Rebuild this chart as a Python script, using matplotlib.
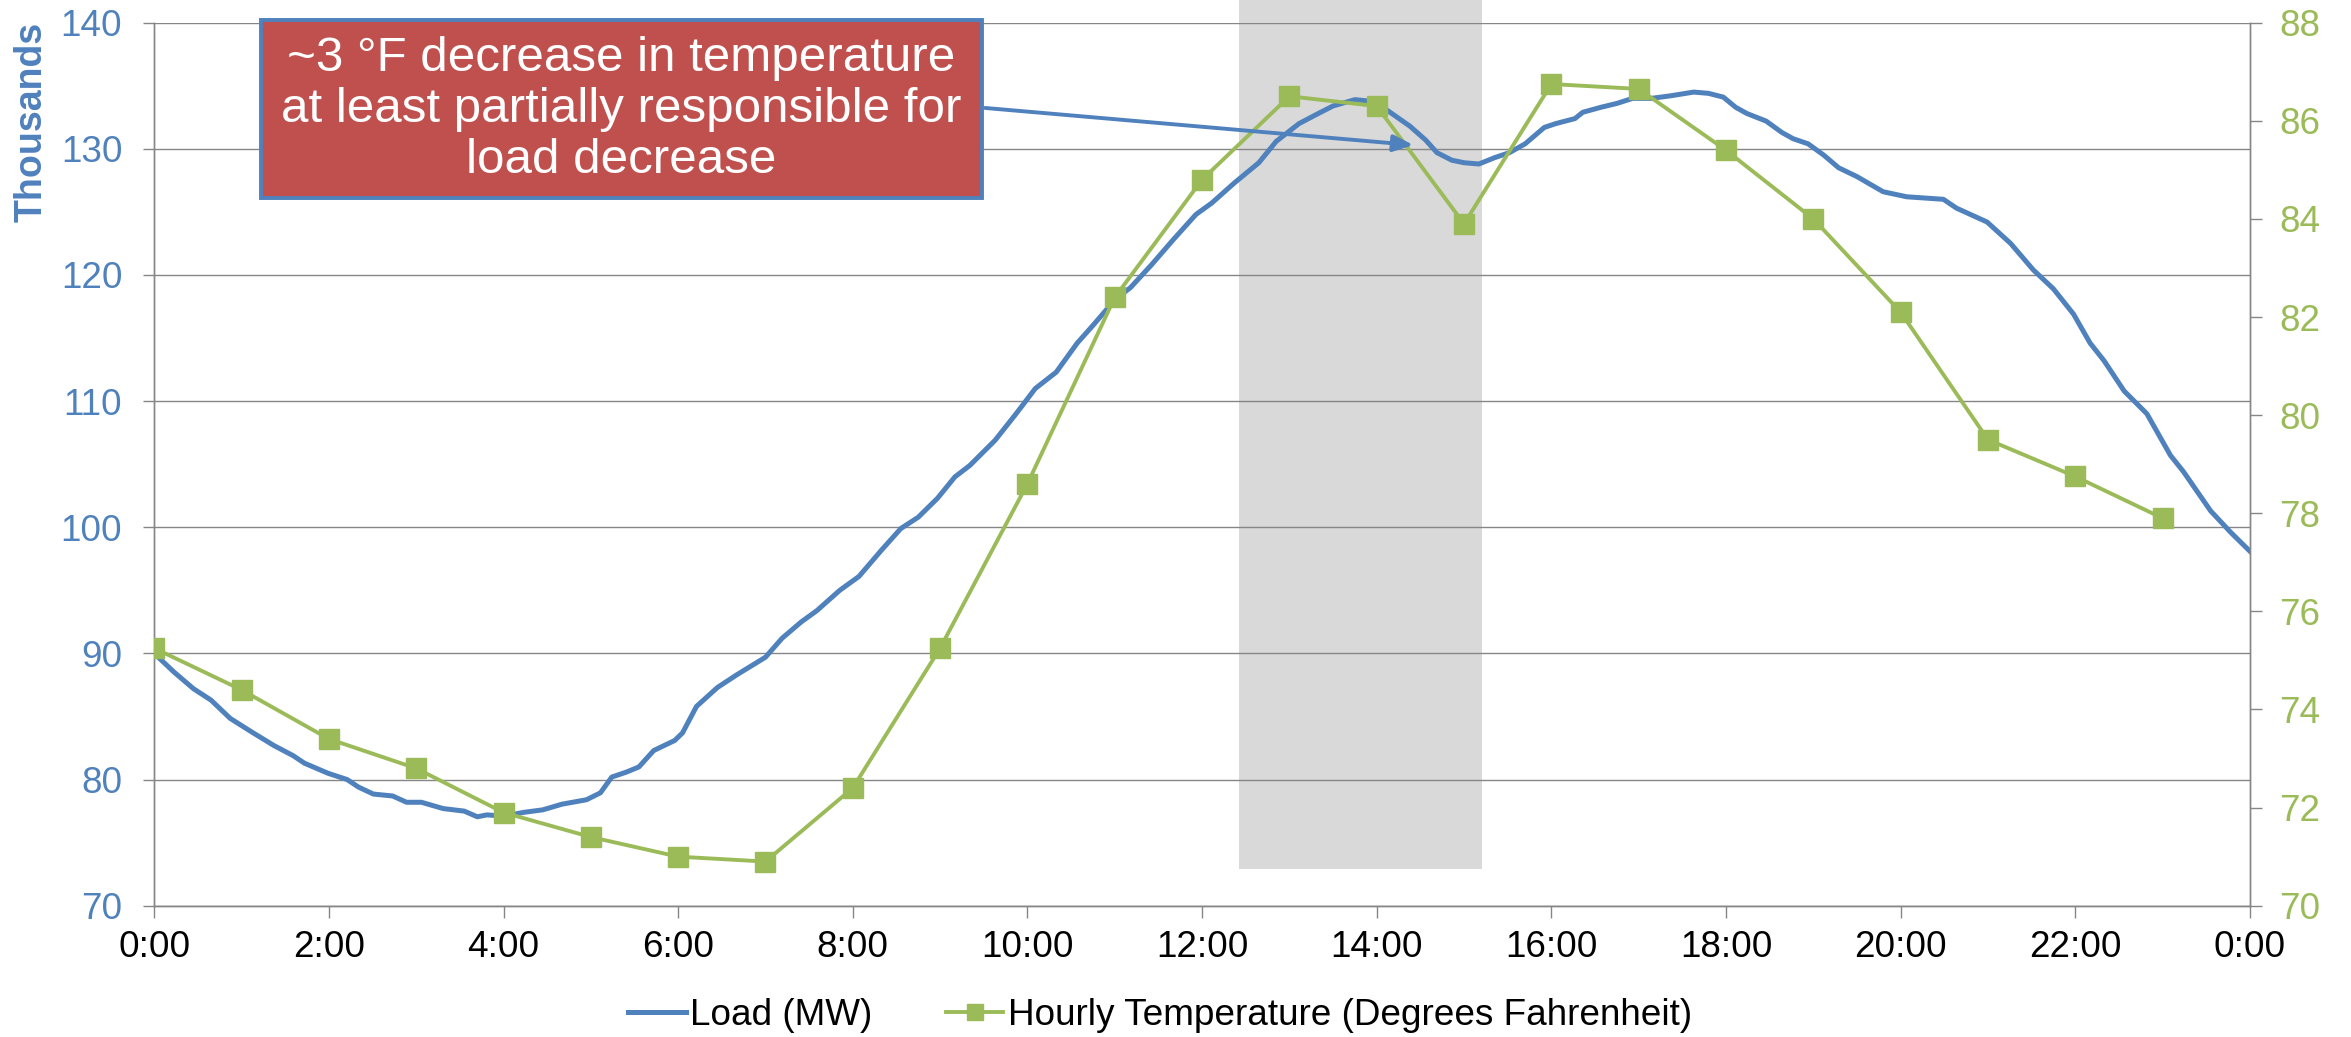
import numpy as np
import matplotlib
matplotlib.use('Agg')
import matplotlib.pyplot as plt
from matplotlib.patches import Rectangle

plt.rcParams['font.family'] = ['Liberation Sans', 'DejaVu Sans']

# load readings (hour of day, MW in thousands)
load_hour = [0.00, 0.23, 0.45, 0.65, 0.87, 1.11, 1.37, 1.59, 1.72, 1.99,
             2.21, 2.34, 2.51, 2.73, 2.89, 3.06, 3.31, 3.55, 3.70, 3.81,
             4.01, 4.23, 4.45, 4.67, 4.95, 5.11, 5.24, 5.41, 5.55, 5.72,
             5.96, 6.05, 6.21, 6.45, 6.67, 7.00, 7.19, 7.41, 7.59, 7.85,
             8.07, 8.33, 8.55, 8.75, 8.97, 9.17, 9.34, 9.63, 9.87, 10.09,
             10.33, 10.57, 10.75, 11.01, 11.18, 11.42, 11.67, 11.93, 12.11, 12.37,
             12.65, 12.85, 13.11, 13.33, 13.50, 13.75, 13.90, 14.07, 14.38, 14.56,
             14.69, 14.86, 15.00, 15.17, 15.35, 15.52, 15.70, 15.92, 16.05, 16.27,
             16.36, 16.57, 16.75, 16.93, 17.14, 17.36, 17.63, 17.80, 17.97, 18.11,
             18.24, 18.46, 18.64, 18.77, 18.94, 19.12, 19.29, 19.50, 19.80, 20.07,
             20.49, 20.64, 20.99, 21.26, 21.52, 21.75, 21.98, 22.17, 22.33, 22.56,
             22.82, 23.09, 23.24, 23.55, 23.78, 24.00]
load_k = [90.0, 88.5, 87.2, 86.3, 84.85, 83.8, 82.7, 81.9, 81.3, 80.5,
          80.0, 79.4, 78.85, 78.7, 78.2, 78.2, 77.7, 77.5, 77.05, 77.2,
          77.1, 77.4, 77.6, 78.05, 78.4, 78.95, 80.2, 80.6, 81.0, 82.3,
          83.1, 83.7, 85.8, 87.3, 88.3, 89.7, 91.2, 92.5, 93.4, 95.0,
          96.1, 98.2, 99.9, 100.8, 102.3, 104.0, 104.9, 106.9, 109.0, 111.0,
          112.3, 114.6, 116.0, 118.1, 119.0, 120.8, 122.8, 124.8, 125.7, 127.3,
          128.9, 130.6, 132.0, 132.8, 133.4, 133.9, 133.8, 133.3, 131.8, 130.7,
          129.7, 129.1, 128.9, 128.8, 129.3, 129.7, 130.4, 131.7, 132.0, 132.4,
          132.9, 133.3, 133.6, 134.0, 134.0, 134.2, 134.5, 134.4, 134.1, 133.3,
          132.8, 132.2, 131.3, 130.8, 130.4, 129.5, 128.5, 127.8, 126.6, 126.2,
          126.0, 125.3, 124.2, 122.5, 120.4, 118.9, 116.9, 114.6, 113.2, 110.8,
          109.0, 105.7, 104.4, 101.3, 99.6, 98.1]

# hourly temperature (deg F)
temp_hour = list(range(24))
temp_f = [75.25, 74.4, 73.4, 72.8, 71.9, 71.4, 71.0, 70.9, 72.4, 75.25,
          78.6, 82.4, 84.8, 86.5, 86.3, 83.9, 86.75, 86.65, 85.4, 84.0,
          82.1, 79.5, 78.75, 77.9]

tick_hours = list(range(0, 25, 2))
tick_labels = ['%d:00' % (h % 24) for h in tick_hours]

blue = '#4F81BD'
green = '#9BBB59'
grey = '#868686'

fig = plt.figure(figsize=(23.51, 10.37), dpi=100)
ax = fig.add_axes([0.0656, 0.1266, 0.9570 - 0.0656, 0.9781 - 0.1266])
ax2 = ax.twinx()

# shaded window
ax.add_patch(Rectangle((12.42, 72.9), 15.21 - 12.42, 141.8 - 72.9,
                       facecolor='#D9D9D9', edgecolor='none', clip_on=False, zorder=0.5))

ln1, = ax.plot(load_hour, load_k, color=blue, lw=3.6, label='Load (MW)', zorder=2)
ln2, = ax2.plot(temp_hour, temp_f, color=green, lw=2.8, marker='s', ms=14,
                label='Hourly Temperature (Degrees Fahrenheit)', zorder=3)

ax.set_xlim(0, 24)
ax.set_ylim(70, 140)
ax.set_yticks(range(70, 141, 10))
ax2.set_ylim(70, 88)
ax2.set_yticks(range(70, 89, 2))
ax.set_xticks(tick_hours)
ax.set_xticklabels(tick_labels)

ax.yaxis.grid(True, color=grey, lw=1.0)
for a in (ax, ax2):
    a.spines['top'].set_visible(False)
    for s in ('left', 'right', 'bottom'):
        a.spines[s].set_color(grey)
        a.spines[s].set_linewidth(1.0)

ax.tick_params(axis='y', length=8, width=1, color=grey, labelcolor=blue, labelsize=26.6, pad=15)
ax.tick_params(axis='x', length=8.4, width=1, color=grey, labelcolor='black', labelsize=26.6, pad=9)
ax2.tick_params(axis='y', length=8.3, width=1, color=grey, labelcolor=green, labelsize=26.6, pad=13)

fig.text(0.0135, 0.8828, 'Thousands', rotation=90, ha='center', va='center',
         color=blue, fontsize=27, fontweight='bold')

# callout box
fig.patches.append(Rectangle((0.1110, 0.8088), 0.3067, 0.1719, transform=fig.transFigure,
                             facecolor='#C0504D', edgecolor=blue, lw=2.8, zorder=10))
fig.text(0.1110 + 0.3067 / 2, 0.8088 + 0.1719 / 2,
         '~3 \u00b0F decrease in temperature\nat least partially responsible for\nload decrease',
         ha='center', va='center', color='white', fontsize=35.5, linespacing=1.17, zorder=11)

ax2.annotate('', xy=(14.42, 130.3), xycoords=ax.transData,
             xytext=(0.419, 0.8959), textcoords='figure fraction',
             arrowprops=dict(arrowstyle='-|>,head_length=0.6,head_width=0.25',
                             color=blue, lw=2.8, shrinkA=0, shrinkB=0, mutation_scale=20),
             zorder=12)

fig.legend(handles=[ln1, ln2], loc='center', bbox_to_anchor=(0.4935, 0.0212), ncol=2,
           frameon=False, fontsize=26.6, handlelength=1.55, handletextpad=0.12,
           columnspacing=2.0, borderpad=0, markerscale=0.85)

fig.savefig('out.png', dpi=100)
